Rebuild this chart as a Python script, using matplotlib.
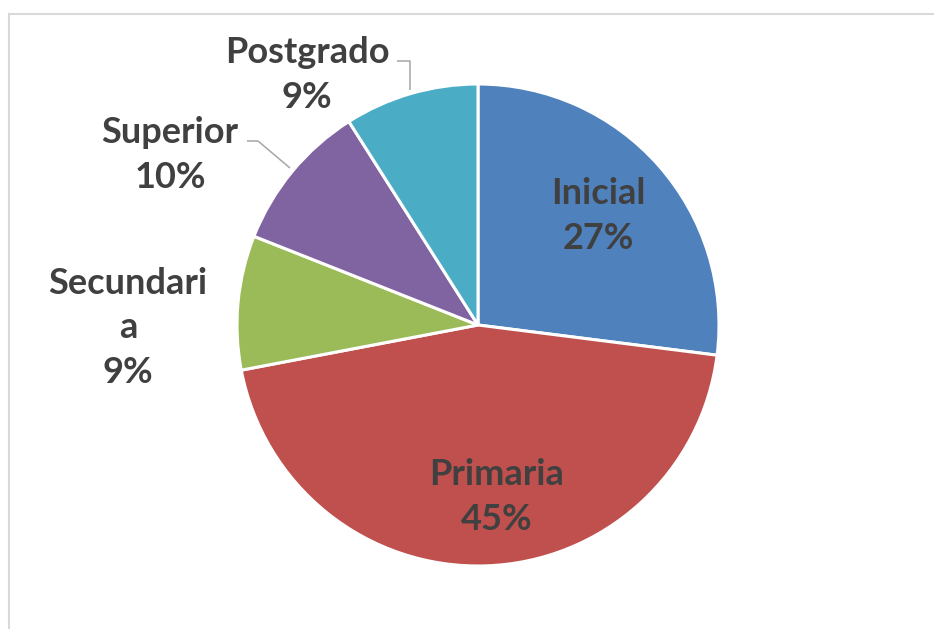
import numpy as np
import matplotlib
matplotlib.use("Agg")
import matplotlib.pyplot as plt
from matplotlib.lines import Line2D

categories = ["Inicial", "Primaria", "Secundaria", "Superior", "Postgrado"]
values = [27, 45, 9, 10, 9]
label_text = ["Inicial\n27%", "Primaria\n45%", "Secundari\na\n9%", "Superior\n10%", "Postgrado\n9%"]
colors = ["#4F81BD", "#C0504D", "#9BBB59", "#8064A2", "#4BACC6"]

W, H = 934, 629
CX, CY, R = 478, 325, 241   # pie centre / radius in pixels


def px(x, y):
    # pixel (from top-left) -> data units of the pie (radius 1)
    return (x - CX) / R, (CY - y) / R


fig = plt.figure(figsize=(W / 100, H / 100), dpi=100, facecolor="white")
ax = fig.add_axes([0, 0, 1, 1])
ax.pie(values, colors=colors, startangle=90, counterclock=False, radius=1,
       wedgeprops=dict(edgecolor="white", linewidth=2.2))
ax.set_xlim(-CX / R, (W - CX) / R)
ax.set_ylim(-(H - CY) / R, CY / R)
ax.set_aspect("auto")
ax.axis("off")

# label block centres (pixels)
label_pos = [(598, 216), (497, 497), (128, 328), (170, 155), (307, 75)]
for txt, (x, y) in zip(label_text, label_pos):
    ax.text(*px(x, y), txt, ha="center", va="center", fontsize=26, fontweight="bold",
            family=["Lato", "DejaVu Sans"], color="#404040", linespacing=1.42)

# leader lines
leaders = [[(397, 61), (410, 61), (410, 90)], [(247, 141), (258, 141), (290, 168)]]
for pts in leaders:
    xs, ys = zip(*[px(a, b) for a, b in pts])
    ax.plot(xs, ys, color="#A6A6A6", lw=1.1, solid_capstyle="butt")

# chart frame (top and left edges visible)
fig.add_artist(Line2D([8.5 / W, 1], [1 - 13.5 / H] * 2, color="#D9D9D9", lw=1.5))
fig.add_artist(Line2D([8.5 / W] * 2, [0, 1 - 13.5 / H], color="#D9D9D9", lw=1.5))

fig.savefig("out.png", dpi=100, facecolor="white")
